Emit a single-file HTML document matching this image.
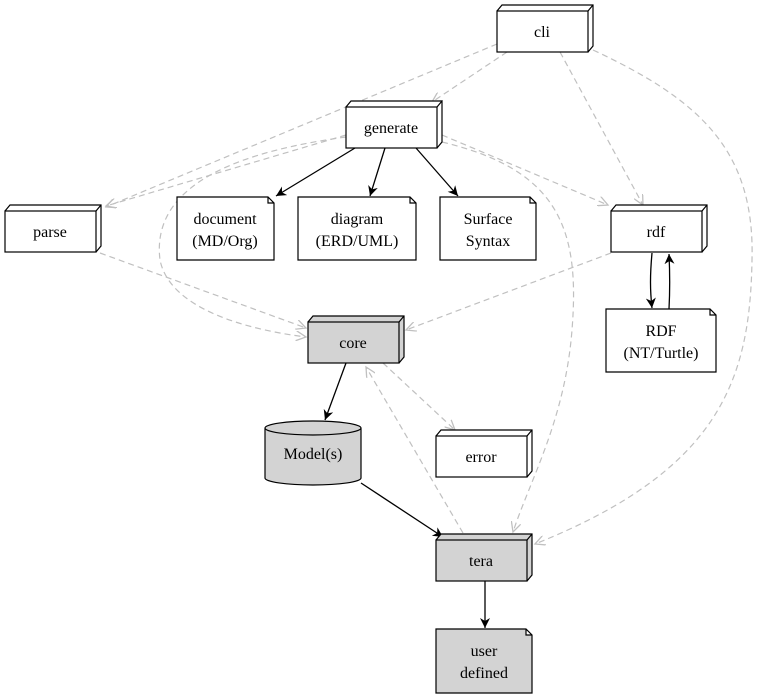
<!DOCTYPE html>
<html><head><meta charset="utf-8"><style>body{margin:0;background:#fff}svg{display:block}text{font-family:"Liberation Serif",serif;font-size:16px;text-anchor:middle}</style></head><body>
<svg width="759" height="699" viewBox="0 0 759 699">
<defs>
<marker id="b" markerWidth="12" markerHeight="10" refX="10" refY="5" orient="auto" markerUnits="userSpaceOnUse"><path d="M0,0 L10,5 L0,10 L3,5 z" fill="#000"/></marker>
<marker id="g" markerWidth="12" markerHeight="10" refX="10" refY="5" orient="auto" markerUnits="userSpaceOnUse"><path d="M0,0 L10,5 L0,10" fill="none" stroke="#c0c0c0" stroke-width="1.3"/></marker>
</defs>
<g fill="none" stroke="#c0c0c0" stroke-width="1.2" stroke-dasharray="6,4" marker-end="url(#g)">
<path d="M507,52 L432,102"/>
<path d="M497,44 L106,207"/>
<path d="M560,52 L643,205"/>
<path d="M593,50 C700,100 755,150 752,260 C750,380 720,470 535,544"/>
<path d="M442,135 L608,205"/>
<path d="M346,135 L106,206"/>
<path d="M346,137 C250,150 150,180 160,260 C170,310 250,330 306,337"/>
<path d="M442,142 C560,170 580,230 572,330 C565,420 530,480 513,532"/>
<path d="M100,253 L306,328"/>
<path d="M611,253 L406,330"/>
<path d="M383,363 L455,430"/>
<path d="M463,533 L366,367"/>
</g>
<g fill="none" stroke="#000" stroke-width="1.3" marker-end="url(#b)">
<path d="M355,148 L276,196"/>
<path d="M385,148 L370,196"/>
<path d="M416,148 L458,196"/>
<path d="M652,253 C650,275 650,290 652,308"/>
<path d="M669,309 C670,290 670,275 669,254"/>
<path d="M346,363 L325,420"/>
<path d="M361,483 L443,537"/>
<path d="M485,581 L485,628"/>
</g>
<g stroke="#000" stroke-width="1.2">
<!-- 3D boxes -->
<g fill="#fff">
<path d="M497,11 l5,-6 h91 v41 l-5,6"/><rect x="497" y="11" width="91" height="41"/><path d="M588,11 l5,-6" fill="none"/>
<path d="M346,107 l5,-6 h91 v41 l-5,6"/><rect x="346" y="107" width="91" height="41"/><path d="M437,107 l5,-6" fill="none"/>
<path d="M5,211 l5,-6 h91 v41 l-5,6"/><rect x="5" y="211" width="91" height="41"/><path d="M96,211 l5,-6" fill="none"/>
<path d="M611,211 l5,-6 h91 v41 l-5,6"/><rect x="611" y="211" width="91" height="41"/><path d="M702,211 l5,-6" fill="none"/>
<path d="M436,436 l5,-6 h91 v41 l-5,6"/><rect x="436" y="436" width="91" height="41"/><path d="M527,436 l5,-6" fill="none"/>
</g>
<g fill="#d3d3d3">
<path d="M308,322 l5,-6 h91 v41 l-5,6"/><rect x="308" y="322" width="91" height="41"/><path d="M399,322 l5,-6" fill="none"/>
<path d="M436,540 l5,-6 h91 v41 l-5,6"/><rect x="436" y="540" width="91" height="41"/><path d="M527,540 l5,-6" fill="none"/>
</g>
<!-- notes -->
<g fill="#fff">
<path d="M177,197 h91 l6,6 v57 h-97 z M268,197 v6 h6"/>
<path d="M298,197 h112 l6,6 v57 h-118 z M410,197 v6 h6"/>
<path d="M440,197 h90 l6,6 v57 h-96 z M530,197 v6 h6"/>
<path d="M606,309 h104 l6,6 v57 h-110 z M710,309 v6 h6"/>
</g>
<path fill="#d3d3d3" d="M436,629 h90 l6,6 v58 h-96 z M526,629 v6 h6"/>
<!-- cylinder -->
<path fill="#d3d3d3" d="M265,428 v50 a48,7 0 0 0 96,0 v-50 a48,7 0 0 0 -96,0 a48,7 0 0 0 96,0"/>
</g>
<text x="542" y="37">cli</text>
<text x="391" y="133">generate</text>
<text x="50" y="237">parse</text>
<text x="656" y="237">rdf</text>
<text x="353" y="348">core</text>
<text x="481" y="462">error</text>
<text x="481" y="566">tera</text>
<text x="225" y="224">document</text><text x="225" y="246">(MD/Org)</text>
<text x="357" y="224">diagram</text><text x="357" y="246">(ERD/UML)</text>
<text x="488" y="224">Surface</text><text x="488" y="246">Syntax</text>
<text x="661" y="336">RDF</text><text x="661" y="358">(NT/Turtle)</text>
<text x="313" y="459">Model(s)</text>
<text x="484" y="656">user</text><text x="484" y="678">defined</text>
</svg>
</body></html>
